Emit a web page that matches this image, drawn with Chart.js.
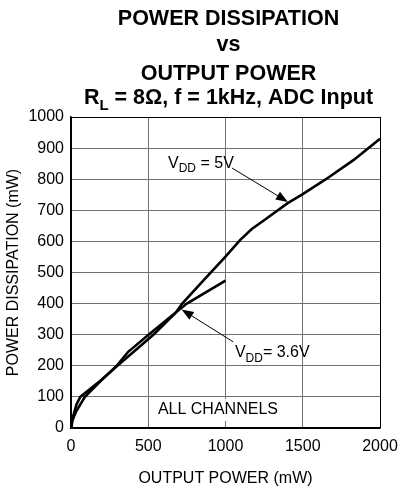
<!DOCTYPE html>
<html>
<head>
<meta charset="utf-8">
<script src="https://cdn.jsdelivr.net/npm/chart.js@4.4.0/dist/chart.umd.min.js"></script>
<style>
  html, body { margin: 0; padding: 0; background: #fff; }
</style>
</head>
<body>
<canvas id="chart" width="399" height="494"></canvas>
<script>
// curve for VDD = 5V
const output5V = [0, 5, 15, 35, 60, 190, 300, 400, 533, 680, 720, 856, 1000, 1094, 1170, 1250, 1400, 1500, 1650, 1830, 2000]
const dissipation5V = [0, 22, 40, 75, 100, 152, 200, 243, 300, 372, 400, 474, 551, 604, 640, 668, 722, 752, 800, 862, 930]

// curve for VDD = 3.6V
const output36V = [0, 10, 30, 90, 190, 300, 370, 500, 680, 750, 1000]
const dissipation36V = [0, 25, 50, 100, 150, 202, 245, 299, 372, 400, 474]

const xTicks = [0, 500, 1000, 1500, 2000]
const yTicks = [0, 100, 200, 300, 400, 500, 600, 700, 800, 900, 1000]

const FONT = "'Liberation Sans', Arial, Helvetica, sans-serif"

function toPoints(xs, ys) {
  return xs.map((x, i) => ({ x: x, y: ys[i] }))
}

// draws "base" + subscript + rest, starting at x; returns the end x
function drawSubText(ctx, x, y, base, sub, rest, size, bold) {
  const w = bold ? "bold " : ""
  ctx.textAlign = "left"
  ctx.textBaseline = "alphabetic"
  ctx.font = w + size + "px " + FONT
  ctx.fillText(base, x, y)
  x += ctx.measureText(base).width
  ctx.font = w + Math.round(size * 0.72) + "px " + FONT
  ctx.fillText(sub, x, y + size * 0.28)
  x += ctx.measureText(sub).width
  ctx.font = w + size + "px " + FONT
  ctx.fillText(rest, x, y)
  return x + ctx.measureText(rest).width
}

function subTextWidth(ctx, base, sub, rest, size, bold) {
  const w = bold ? "bold " : ""
  ctx.font = w + size + "px " + FONT
  let total = ctx.measureText(base).width + ctx.measureText(rest).width
  ctx.font = w + Math.round(size * 0.72) + "px " + FONT
  total += ctx.measureText(sub).width
  return total
}

function drawArrow(ctx, x1, y1, x2, y2) {
  const ang = Math.atan2(y2 - y1, x2 - x1)
  const len = 12
  const half = 4.5
  ctx.strokeStyle = "#000"
  ctx.lineWidth = 1
  ctx.beginPath()
  ctx.moveTo(x1, y1)
  ctx.lineTo(x2 - Math.cos(ang) * len * 0.8, y2 - Math.sin(ang) * len * 0.8)
  ctx.stroke()
  ctx.fillStyle = "#000"
  ctx.beginPath()
  ctx.moveTo(x2, y2)
  ctx.lineTo(x2 - Math.cos(ang) * len - Math.sin(ang) * half, y2 - Math.sin(ang) * len + Math.cos(ang) * half)
  ctx.lineTo(x2 - Math.cos(ang) * len + Math.sin(ang) * half, y2 - Math.sin(ang) * len - Math.cos(ang) * half)
  ctx.closePath()
  ctx.fill()
}

// four-line heading above the plot
const headingPlugin = {
  id: "heading",
  afterDraw(chart) {
    const ctx = chart.ctx
    const cx = (chart.chartArea.left + chart.chartArea.right) / 2 + 3
    ctx.save()
    ctx.fillStyle = "#000"
    ctx.font = "bold 21.5px " + FONT
    ctx.textAlign = "center"
    ctx.textBaseline = "alphabetic"
    ctx.fillText("POWER DISSIPATION", cx, 25)
    ctx.fillText("vs", cx, 51)
    ctx.fillText("OUTPUT POWER", cx, 80)
    const rest = " = 8\u03A9, f = 1kHz, ADC Input"
    const w = subTextWidth(ctx, "R", "L", rest, 21.5, true)
    drawSubText(ctx, cx - w / 2, 104, "R", "L", rest, 21.5, true)
    ctx.restore()
  },
}

// in-plot labels and arrows, placed in data units
const notesPlugin = {
  id: "notes",
  beforeDatasetsDraw(chart) {
    const ctx = chart.ctx
    const xs = chart.scales.x
    const ys = chart.scales.y
    // white backing behind the ALL CHANNELS note
    ctx.save()
    ctx.font = "16px " + FONT
    const text = "ALL CHANNELS"
    const w = ctx.measureText(text).width
    const cx = xs.getPixelForValue(951)
    const cy = ys.getPixelForValue(58)
    ctx.fillStyle = "#fff"
    ctx.fillRect(cx - w / 2 - 4, cy - 11, w + 8, 22)
    ctx.fillStyle = "#000"
    ctx.textAlign = "center"
    ctx.textBaseline = "middle"
    ctx.fillText(text, cx, cy)
    ctx.restore()
  },
  afterDatasetsDraw(chart) {
    const ctx = chart.ctx
    const xs = chart.scales.x
    const ys = chart.scales.y
    const px = (v) => xs.getPixelForValue(v)
    const py = (v) => ys.getPixelForValue(v)
    ctx.save()
    ctx.fillStyle = "#000"
    drawSubText(ctx, px(628), py(836), "V", "DD", " = 5V", 16, false)
    drawArrow(ctx, px(1042), py(836), px(1404), py(727))
    drawSubText(ctx, px(1061), py(228), "V", "DD", "= 3.6V", 16, false)
    drawArrow(ctx, px(1050), py(277), px(716), py(381))
    ctx.restore()
  },
}

function gridColor(max) {
  return (c) => (c.tick && (c.tick.value === max || c.tick.value === 0) ? "#000" : "#707070")
}

new Chart(document.getElementById("chart"), {
  type: "line",
  data: {
    datasets: [
      {
        label: "VDD = 5V",
        data: toPoints(output5V, dissipation5V),
        borderColor: "#000",
        borderWidth: 2.6,
        pointRadius: 0,
        tension: 0,
        fill: false,
      },
      {
        label: "VDD = 3.6V",
        data: toPoints(output36V, dissipation36V),
        borderColor: "#000",
        borderWidth: 2.6,
        pointRadius: 0,
        tension: 0,
        fill: false,
      },
    ],
  },
  options: {
    responsive: false,
    animation: false,
    layout: { padding: { top: 117, right: 19, bottom: 0, left: 0 } },
    plugins: {
      legend: { display: false },
      tooltip: { enabled: false },
    },
    scales: {
      x: {
        type: "linear",
        min: 0,
        max: 2000,
        afterFit(scale) {
          scale.height = 66
          scale.paddingLeft = 0
          scale.paddingRight = 0
        },
        afterBuildTicks(scale) { scale.ticks = xTicks.map((v) => ({ value: v })) },
        grid: { color: gridColor(2000), lineWidth: 1, drawTicks: false },
        border: { color: "#000", width: 1.5 },
        ticks: {
          color: "#000",
          padding: 9,
          maxRotation: 0,
          font: { family: FONT, size: 16 },
          callback: (v) => String(v),
        },
        title: {
          display: true,
          text: "OUTPUT POWER (mW)",
          color: "#000",
          padding: { top: 4, bottom: 6 },
          font: { family: FONT, size: 16 },
        },
      },
      y: {
        type: "linear",
        min: 0,
        max: 1000,
        afterFit(scale) {
          scale.width = 71
          scale.paddingTop = 0
          scale.paddingBottom = 0
        },
        afterBuildTicks(scale) { scale.ticks = yTicks.map((v) => ({ value: v })) },
        grid: { color: gridColor(1000), lineWidth: 1, drawTicks: false },
        border: { color: "#000", width: 1.5 },
        ticks: {
          color: "#000",
          padding: 7,
          font: { family: FONT, size: 16 },
          callback: (v) => String(v),
        },
        title: {
          display: true,
          text: "POWER DISSIPATION (mW)",
          color: "#000",
          padding: { top: 4, bottom: 4 },
          font: { family: FONT, size: 16 },
        },
      },
    },
  },
  plugins: [headingPlugin, notesPlugin],
})
</script>
</body>
</html>
